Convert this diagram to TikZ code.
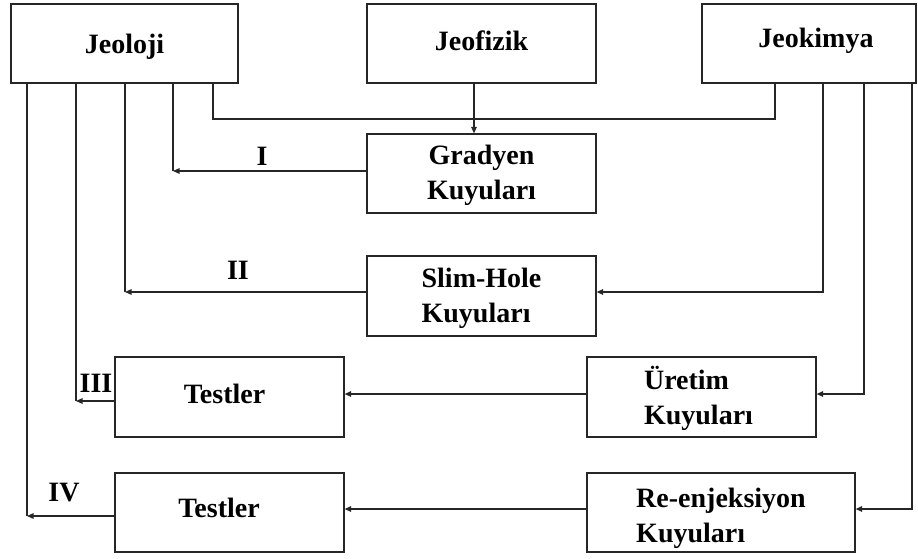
\documentclass[tikz,border=0pt]{standalone}
\usepackage{fontspec}
\setmainfont{Liberation Serif}
\usetikzlibrary{arrows.meta}
\newcommand{\shiftv}[2]{\raisebox{#1}[\height][\depth]{#2}}
\newcommand{\twolines}[3][0pt]{\raisebox{#1}[\height][\depth]{\renewcommand{\arraystretch}{1}\begin{tabular}{@{}l@{}}#2\\#3\end{tabular}}}
\begin{document}
\begin{tikzpicture}[x=1pt,y=-1pt,
  box/.style={draw=black!85,line width=1.2pt,rectangle,inner sep=0pt,font=\fontsize{28}{35}\selectfont\bfseries},
  ln/.style={draw=black!85,line width=1.2pt},
  arr/.style={ln,-{Triangle[length=6.5pt,width=5.5pt]}},
  lbl/.style={font=\fontsize{28}{30}\selectfont\bfseries,inner sep=0pt}]
\useasboundingbox (0,0) rectangle (918,558);
\node[box,minimum width=227pt,minimum height=79pt] (jeoloji) at (124.5,43.5) {\shiftv{-3pt}{Jeoloji}};
\node[box,minimum width=229pt,minimum height=79pt] (jeofizik) at (481.5,43.5) {\shiftv{3pt}{Jeofizik}};
\node[box,minimum width=214pt,minimum height=79pt] (jeokimya) at (809,43.5) {\hspace*{14pt}\shiftv{3pt}{Jeokimya}};
\node[box,minimum width=229pt,minimum height=79pt] (gradyen) at (481.5,173.5) {\shiftv{-1pt}{\begin{tabular}{@{}c@{}}Gradyen\\Kuyuları\end{tabular}}};
\node[box,minimum width=229pt,minimum height=80pt] (slim) at (481.5,296) {\twolines[-2pt]{Slim-Hole}{Kuyuları}};
\node[box,minimum width=229pt,minimum height=80pt] (test1) at (229.5,397) {\hspace*{-10pt}\shiftv{3pt}{Testler}};
\node[box,minimum width=229pt,minimum height=80pt] (uretim) at (701.5,397) {\hspace*{-6pt}\twolines[-3pt]{\"Uretim}{Kuyuları}};
\node[box,minimum width=229pt,minimum height=79pt] (test2) at (229.5,512.5) {\hspace*{-21pt}\shiftv{5pt}{Testler}};
\node[box,minimum width=268pt,minimum height=79pt] (reenj) at (721,512.5) {\twolines[-5pt]{Re-enjeksiyon}{Kuyuları}};
% top connections
\draw[ln] (jeoloji.south -| 213,0) -- (213,119) -- (775,119) -- (jeokimya.south -| 775,0);
\draw[arr] (jeofizik.south -| 474,0) -- (gradyen.north -| 474,0);
% left side returns
\coordinate (c1) at (173,171);
\coordinate (c2) at (125,292);
\coordinate (c3) at (76,401);
\coordinate (c4) at (27,516);
\draw[ln] (jeoloji.south -| c1) -- (c1);
\draw[ln] (jeoloji.south -| c2) -- (c2);
\draw[ln] (jeoloji.south -| c3) -- (c3);
\draw[ln] (jeoloji.south -| c4) -- (c4);
\draw[arr] (gradyen.west |- c1) -- (c1);
\draw[arr] (slim.west |- c2) -- (c2);
\draw[arr] (test1.west |- c3) -- (c3);
\draw[arr] (test2.west |- c4) -- (c4);
\node[lbl] (l1) at (262,156) {I};
\node[lbl] (l2) at (238,270) {II};
\node[lbl] (l3) at (96,383) {III};
\node[lbl] (l4) at (64,493) {IV};
% right side
\coordinate (r1) at (823,292);
\coordinate (r2) at (864,394);
\coordinate (r3) at (912,509);
\draw[arr] (jeokimya.south -| r1) -- (r1) -- (slim.east |- r1);
\draw[arr] (jeokimya.south -| r2) -- (r2) -- (uretim.east |- r2);
\draw[arr] (jeokimya.south -| r3) -- (r3) -- (reenj.east |- r3);
% middle
\draw[arr] (uretim.west |- 0,394) -- (test1.east |- 0,394);
\draw[arr] (reenj.west |- 0,509) -- (test2.east |- 0,509);
\end{tikzpicture}
\end{document}
